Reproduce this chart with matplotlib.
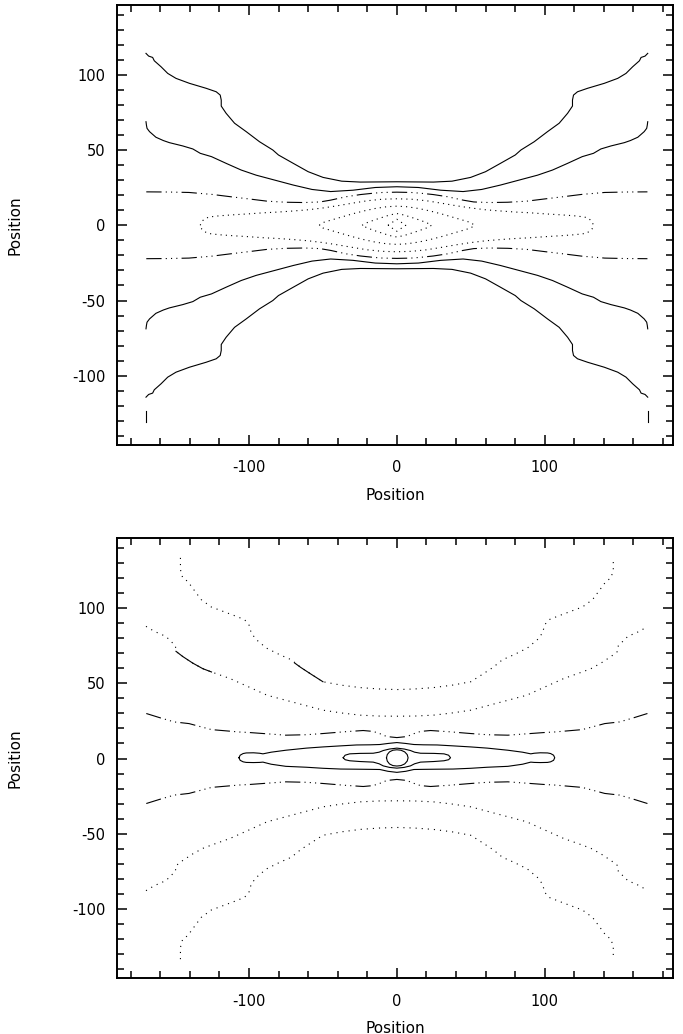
import numpy as np
import matplotlib
matplotlib.use("Agg")
import matplotlib.pyplot as plt
from matplotlib.ticker import MultipleLocator

plt.rcParams['font.family'] = ['DejaVu Sans']
plt.rcParams['axes.unicode_minus'] = False
plt.rcParams['lines.scale_dashes'] = False

# ---- top panel: upper-left halves of the contours ----
A_x = [-169.7, -167.9, -165.2, -164.1, -159.5, -155, -149.4, -140.3, -129, -122.2, -119.5,
       -118.8, -118.8, -115.5, -109.8, -101.9, -92.9, -83.9, -80.1, -70, -60, -49.9, -37.3,
       -24.7, -12, 0]
A_y = [114.2, 112.4, 111.5, 109.3, 105.3, 100.9, 97.6, 94.3, 91, 88.7, 86.5,
       83.2, 79.2, 74.4, 67.8, 62.2, 55.5, 50, 46.7, 41.1, 35.6, 31.8, 29.3,
       28.7, 28.8, 28.9]
B_x = [-169.7, -169.4, -169, -167.3, -163, -158, -153.9, -144.8, -138, -133, -125.4, -115.4,
       -105.3, -95.2, -82.6, -70, -57.4, -44.8, -29.7, -14.6, 0]
B_y = [68.8, 66.5, 64.4, 62.2, 58.5, 56.3, 54.9, 52.7, 50.7, 47.8, 45.6, 41.1,
       36.7, 33.3, 30, 26.7, 23.8, 22.4, 23.3, 25.1, 25.6]
C_x = [-169.5, -155, -140.6, -125, -112.8, -100, -87.7, -75, -62.5, -52, -44.8, -34.1,
       -24.7, -16, -9.6, 0]
C_y = [22.2, 22.1, 21.8, 20.5, 19, 17.5, 16, 15.3, 15.1, 15.5, 16.7, 19,
       20.4, 21.3, 21.8, 22]
D1_x = [-133, -132, -130, -127, -120, -110, -100, -90, -80, -70, -60, -50, -40, -30, -20, -10, 0]
D1_y = [0, 2.5, 4.3, 5.5, 6.3, 7, 7.6, 8.3, 8.8, 9.5, 10.3, 11.5, 13, 14.7, 16.3, 17.3, 17.6]
D2_x = [-52.5, -50, -45, -38, -30, -22, -15, -7, 0]
D2_y = [0, 1.8, 3.3, 5.3, 7.6, 9.6, 11.1, 12.3, 12.7]
D3_x = [-23.5, -20, -15, -10, -5, 0]
D3_y = [0, 1.8, 3.6, 5.2, 6.8, 7.8]
D4_x = [-6, -4, -2, 0]
D4_y = [0, 1.3, 2.7, 4]
stub_x = [-170, -170]
stub_y = [-123.6, -130.9]

# ---- bottom panel ----
E1_x = [-146.4, -146.4, -144.9, -141.5, -137.4, -132.4, -125.6, -117.7, -109.8, -103.1,
        -100.1, -98.5, -95.1, -88.3, -79.3, -71.4, -65, -58, -50, -37.3, -24.7, -12, 0]
E1_y = [133.3, 125.5, 120, 117.7, 112.2, 105.6, 100.7, 97.8, 94.9, 92.3,
        89, 83.4, 79, 73.4, 69, 65.6, 60.5, 56, 51, 48.7, 47.1, 46.2, 45.8]
E1s_x = [-69.2, -65, -58, -50]
E1s_y = [63.5, 60.5, 56, 51]
E2_x = [-169.7, -164.1, -156.2, -149.8, -149.4, -144.9, -138.1, -131.3, -125.4, -112.8,
        -100.3, -87.7, -75.1, -62.5, -49.9, -37, -24.7, -12, 0]
E2_y = [87.8, 84.5, 81.1, 74.9, 71.2, 67.8, 63.4, 59.7, 57.5, 53.1,
        47.6, 42, 38.7, 35.4, 32.1, 30.2, 28.8, 28.2, 28.1]
E2s_x = [-149.4, -144.9, -138.1, -131.3, -125.4]
E2s_y = [71.2, 67.8, 63.4, 59.7, 57.5]
F_x = [-169.5, -160, -150.6, -140.6, -125.4, -106.4, -100.3, -75.1, -61.2, -49.9, -35,
       -22.8, -16, -10, -7, 0]
F_y = [29.9, 27, 24.3, 23.2, 19.2, 17.6, 17.3, 15.5, 15.8, 16.6, 17.8,
       18.6, 18, 16, 14.6, 13.9]
G1_x = [-106.8, -106, -104, -101.9, -97, -92.9, -90.6, -85, -75.1, -61.2, -49.9, -38,
        -27.3, -18, -11.5, -6, 0]
G1_top = [0.5, 2.2, 3.3, 3.7, 3.8, 3.5, 3.1, 4.2, 5.5, 6.9, 7.7, 8.4, 9, 9.1, 9.3, 10, 10.6]
G1_bot = [0.5, -1.2, -2.2, -2.6, -2.7, -2.6, -2.4, -3.8, -5.2, -5.8, -6.5, -7, -7.1, -7.2,
          -7.3, -8.5, -9.2]
G2_x = [-36.3, -35, -31.9, -25, -16, -12, -9.2, -5, 0]
G2_top = [0.5, 2.2, 3.1, 3.4, 3.5, 4.2, 5.3, 6.3, 6.9]
G2_bot = [0.5, -0.8, -1.5, -2, -2.4, -3.5, -4.9, -5.9, -6.4]
G3_x = [-7, -6.5, -5, -2.7, 0, 2.8, 5.3, 7, 7.6, 7, 5.3, 2.8, 0, -2.7, -5, -6.5, -7]
G3_y = [0.5, 2.6, 4.4, 5.5, 5.8, 5.5, 4.4, 2.6, 0.5, -1.7, -3.6, -4.7, -5, -4.7, -3.6, -1.7, 0.5]

DOT = dict(color='black', lw=0.8, dashes=(0.8, 3.0))
DOT2 = dict(color='black', lw=0.8, dashes=(0.8, 3.6))
SOLID = dict(color='black', lw=0.8)
DDD = dict(color='black', lw=0.8, dashes=(11, 3, 0.8, 3, 0.8, 3, 0.8, 3))


def open_curve(xh, yh):
    # left half + mirrored right half
    xh = np.asarray(xh, float)
    yh = np.asarray(yh, float)
    x = np.concatenate([xh, -xh[::-1][1:]])
    y = np.concatenate([yh, yh[::-1][1:]])
    return x, y


def closed_curve(xh, top, bot):
    xt, yt = open_curve(xh, top)
    xb, yb = open_curve(xh, bot)
    return np.concatenate([xt, xb[::-1]]), np.concatenate([yt, yb[::-1]])


def style_axes(ax):
    ax.set_xlim(-189.5, 187)
    ax.set_ylim(-146, 146.3)
    ax.xaxis.set_major_locator(MultipleLocator(100))
    ax.xaxis.set_minor_locator(MultipleLocator(20))
    ax.yaxis.set_major_locator(MultipleLocator(50))
    ax.yaxis.set_minor_locator(MultipleLocator(10))
    ax.tick_params(which='both', direction='in', top=True, right=True,
                   labelsize=10.5, width=1.1)
    ax.tick_params(axis='x', which='major', pad=11)
    ax.tick_params(axis='y', which='major', pad=8)
    ax.tick_params(which='major', length=7.5)
    ax.tick_params(which='minor', length=5)
    for s in ax.spines.values():
        s.set_linewidth(1.4)
    ax.set_xlabel('Position', fontsize=11, labelpad=9)
    ax.set_ylabel('Position', fontsize=11, labelpad=36)


fig = plt.figure(figsize=(6.83, 10.34), dpi=100)
ax1 = fig.add_axes([0.1709, 0.5696, 0.8149, 0.4255])
ax2 = fig.add_axes([0.1709, 0.0539, 0.8149, 0.4255])

# top panel
for hx, hy, st in [(A_x, A_y, SOLID), (B_x, B_y, SOLID), (C_x, C_y, DDD)]:
    x, y = open_curve(hx, hy)
    ax1.plot(x, y, **st)
    ax1.plot(x, -y, **st)
for hx, hy in [(D1_x, D1_y), (D2_x, D2_y), (D3_x, D3_y), (D4_x, D4_y)]:
    x, y = closed_curve(hx, hy, [-v for v in hy])
    ax1.plot(x, y, **DOT)
ax1.plot(stub_x, stub_y, **SOLID)
ax1.plot([-v for v in stub_x], stub_y, **SOLID)
style_axes(ax1)

# bottom panel
for hx, hy, st in [(E1_x, E1_y, DOT2), (E2_x, E2_y, DOT2), (F_x, F_y, DDD)]:
    x, y = open_curve(hx, hy)
    ax2.plot(x, y, **st)
    ax2.plot(x, -y, **st)
ax2.plot(E1s_x, E1s_y, **SOLID)
ax2.plot(E2s_x, E2s_y, **SOLID)
for hx, top, bot in [(G1_x, G1_top, G1_bot), (G2_x, G2_top, G2_bot)]:
    x, y = closed_curve(hx, top, bot)
    ax2.plot(x, y, **SOLID)
ax2.plot(G3_x, G3_y, **SOLID)
style_axes(ax2)

fig.savefig('out.png', dpi=100)
